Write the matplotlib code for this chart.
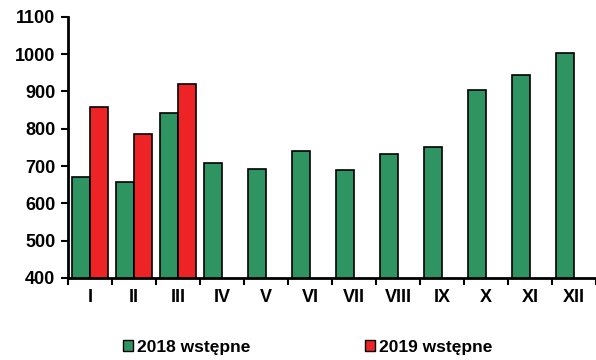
import numpy as np
import matplotlib.pyplot as plt
from matplotlib.patches import Patch

plt.rcParams['font.family'] = ['Liberation Sans', 'DejaVu Sans']
plt.rcParams['font.weight'] = 'bold'

# dane
miesiace = ['I', 'II', 'III', 'IV', 'V', 'VI', 'VII', 'VIII', 'IX', 'X', 'XI', 'XII']
w2018 = [671, 657, 842, 709, 693, 741, 690, 733, 752, 903, 944, 1003]
w2019 = [858, 785, 919]

kolor_2018 = '#2e9462'
kolor_2019 = '#ee2326'

fig = plt.figure(figsize=(5.96, 3.6), dpi=100)
ax = fig.add_axes([0.114, 0.228, 0.886, 0.725])

x = np.arange(len(miesiace))
szer = 0.4
ax.bar(x - szer / 2, w2018, szer, color=kolor_2018, edgecolor='black', linewidth=1.2, zorder=2)
ax.bar(x[:len(w2019)] + szer / 2, w2019, szer, color=kolor_2019, edgecolor='black', linewidth=1.2, zorder=2)

ax.set_ylim(400, 1100)
ax.set_yticks(range(400, 1101, 100))
ax.set_xlim(-0.5, len(miesiace) - 0.5)

# podzialki na granicach kategorii, etykiety na srodku
ax.set_xticks(np.arange(-0.5, len(miesiace), 1))
ax.set_xticklabels([])
ax.set_xticks(x, minor=True)
ax.set_xticklabels(miesiace, minor=True)
ax.tick_params(axis='x', which='major', length=5, width=1.5, direction='out')
ax.tick_params(axis='x', which='minor', length=0, pad=8, labelsize=13)
ax.tick_params(axis='y', length=5, width=1.5, direction='out', labelsize=13, pad=4)

for lab in ax.get_xticklabels(minor=True) + ax.get_yticklabels():
    lab.set_fontweight('bold')

for s in ['top', 'right']:
    ax.spines[s].set_visible(False)
for s in ['left', 'bottom']:
    ax.spines[s].set_linewidth(2)

uchwyty = [Patch(facecolor=kolor_2018, edgecolor='black', label='2018 wstępne'),
           Patch(facecolor=kolor_2019, edgecolor='black', label='2019 wstępne')]
fig.legend(handles=uchwyty, loc='center', bbox_to_anchor=(0.516, 0.035), ncol=2,
           frameon=False, prop={'size': 12.5, 'weight': 'bold'},
           handlelength=0.6, handleheight=0.6, handletextpad=0.2, columnspacing=6.6)

plt.savefig('out.png', dpi=100)
